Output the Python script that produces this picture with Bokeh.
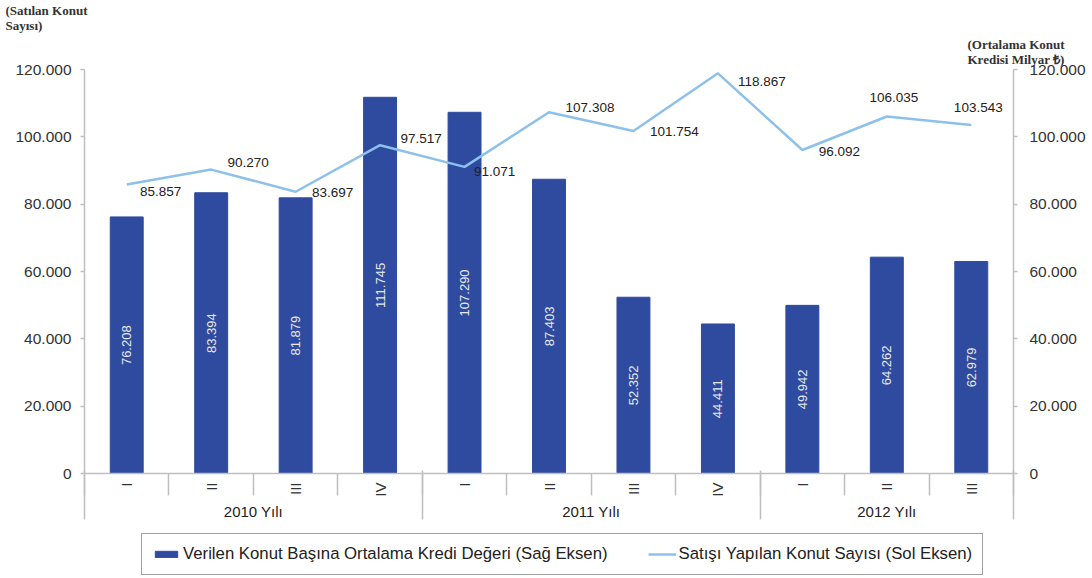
import math
from bokeh.plotting import figure
from bokeh.layouts import column
from bokeh.models import (Range1d, LinearAxis, FixedTicker, Title, Legend, LegendItem,
                          ColumnDataSource)
from bokeh.core.properties import value
from bokeh.embed import file_html
from bokeh.resources import INLINE

# ---------------- data ----------------
years = ["2010 Yılı", "2011 Yılı", "2012 Yılı"]
quarters = [["I", "II", "III", "IV"], ["I", "II", "III", "IV"], ["I", "II", "III"]]
credit_values = [76208, 83394, 81879, 111745, 107290, 87403, 52352, 44411, 49942, 64262, 62979]
sales_counts = [85857, 90270, 83697, 97517, 91071, 107308, 101754, 118867, 96092, 106035, 103543]
y_ticks = [0, 20000, 40000, 60000, 80000, 100000, 120000]
y_tick_labels = ["0", "20.000", "40.000", "60.000", "80.000", "100.000", "120.000"]
bar_name = "Verilen Konut Başına Ortalama Kredi Değeri (Sağ Eksen)"
line_name = "Satışı Yapılan Konut Sayısı (Sol Eksen)"
left_title = "(Satılan Konut\nSayısı)"
right_title = "(Ortalama Konut\nKredisi Milyar ₺)"

# label offsets (screen px) for the line value labels
line_lbl_dx = [34, 37, 37, 41, 30, 41, 41, 44, 37, 7, 7]
line_lbl_dy = [7, -7, 1, -7, 5, -5, 1, 8, 2, -19, -17]

def fmt(v):
    return f"{v:,}".replace(",", ".")

quarter_labels = [q for qs in quarters for q in qs]
n = len(quarter_labels)
slot_centers = [i + 0.5 for i in range(n)]          # category slots on the x scale
boundaries_all = list(range(n + 1))
year_bounds = [0]
for qs in quarters:
    year_bounds.append(year_bounds[-1] + len(qs))
year_centers = [(a + b) / 2 for a, b in zip(year_bounds[:-1], year_bounds[1:])]

FONT = "Liberation Sans"
AXIS_GRAY = "#BFBFBF"
BAR_COLOR = "#2E4B9F"
LINE_COLOR = "#8DC0EA"
W = 1092

# ---------------- main chart ----------------
src = ColumnDataSource(dict(
    x=slot_centers,
    credit=credit_values,
    credit_mid=[v / 2 for v in credit_values],
    credit_lbl=[fmt(v) for v in credit_values],
    sales=sales_counts,
    sales_lbl=[fmt(v) for v in sales_counts],
    dx=line_lbl_dx,
    dy=line_lbl_dy,
))

p = figure(x_range=Range1d(0, n), y_range=Range1d(0, 120000), width=W, height=530,
           output_backend="svg", toolbar_location=None, x_axis_location=None,
           min_border_left=84, min_border_right=79, min_border_top=58, min_border_bottom=57)
p.grid.visible = False
p.outline_line_color = None

ya = p.yaxis[0]
ya.ticker = FixedTicker(ticks=y_ticks)
ya.major_label_overrides = {t: l for t, l in zip(y_ticks, y_tick_labels)}
yr = LinearAxis(ticker=FixedTicker(ticks=y_ticks))
yr.major_label_overrides = {t: l for t, l in zip(y_ticks, y_tick_labels)}
p.add_layout(yr, "right")
for ax in [ya, yr]:
    ax.axis_line_color = AXIS_GRAY
    ax.axis_line_width = 1.5
    ax.major_tick_line_color = AXIS_GRAY
    ax.major_tick_line_width = 1.5
    ax.major_tick_out = 4
    ax.major_tick_in = 0
    ax.minor_tick_line_color = None
    ax.major_label_text_font = FONT
    ax.major_label_text_font_size = "15.5px"
    ax.major_label_text_color = "#333333"
ya.major_label_standoff = 9
yr.major_label_standoff = 12

# x axis 1: quarters (labels at slot centres, short separators at slot boundaries)
xq = LinearAxis(ticker=FixedTicker(ticks=slot_centers, minor_ticks=boundaries_all))
xq.major_label_overrides = {c: q for c, q in zip(slot_centers, quarter_labels)}
xq.axis_line_color = AXIS_GRAY
xq.axis_line_width = 1.5
xq.major_tick_line_color = None
xq.major_tick_out = 0
xq.major_tick_in = 0
xq.minor_tick_line_color = AXIS_GRAY
xq.minor_tick_line_width = 1.5
xq.minor_tick_out = 22
xq.minor_tick_in = 0
xq.major_label_orientation = math.pi / 2
xq.major_label_text_font = FONT
xq.major_label_text_font_size = "15px"
xq.major_label_text_color = "#333333"
xq.major_label_standoff = -13
p.add_layout(xq, "below")

# x axis 2: years (labels at year centres, long separators at year boundaries)
xy = LinearAxis(ticker=FixedTicker(ticks=year_centers, minor_ticks=year_bounds))
xy.major_label_overrides = {c: y for c, y in zip(year_centers, years)}
xy.axis_line_color = None
xy.major_tick_line_color = None
xy.major_tick_out = 0
xy.major_tick_in = 0
xy.minor_tick_line_color = AXIS_GRAY
xy.minor_tick_line_width = 1.5
xy.minor_tick_in = 29
xy.minor_tick_out = 20
xy.major_label_text_font = FONT
xy.major_label_text_font_size = "15px"
xy.major_label_text_color = "#222222"
xy.major_label_standoff = -17
p.add_layout(xy, "below")

bars = p.vbar(x="x", top="credit", width=0.39, source=src, fill_color=BAR_COLOR,
              line_color=BAR_COLOR)
line = p.line(x="x", y="sales", source=src, line_color=LINE_COLOR, line_width=2.5)

p.text(x="x", y="credit_mid", text="credit_lbl", source=src, angle=math.pi / 2,
       text_align="center", text_baseline="middle", text_color="#E8E8E8",
       text_font=value(FONT), text_font_size="13px")
p.text(x="x", y="sales", text="sales_lbl", source=src, x_offset="dx", y_offset="dy",
       text_align="center", text_baseline="middle", text_color="#222222",
       text_font=value(FONT), text_font_size="13.5px")

# axis titles in the top border (right one closest to the frame, left one above it)
p.add_layout(Title(text=right_title, align="left", offset=883, standoff=5,
                   text_font="Liberation Serif", text_font_size="13px",
                   text_line_height=1.0, text_font_style="bold",
                   text_color="#333333"), "above")
p.add_layout(Title(text=left_title, align="left", offset=-79, standoff=0,
                   text_font="Liberation Serif", text_font_size="13px",
                   text_line_height=1.0, text_font_style="bold",
                   text_color="#333333"), "above")

# ---------------- legend strip ----------------
lf = figure(width=W, height=48, x_range=Range1d(0, 1), y_range=Range1d(0, 1),
            output_backend="svg", toolbar_location=None, x_axis_location=None,
            y_axis_location=None, min_border=0)
lf.outline_line_color = None
lf.grid.visible = False
# legend proxies sit outside the strip's visible range
lg_bar = lf.vbar(x=[-5], top=[0], width=0.1, fill_color=BAR_COLOR, line_color=BAR_COLOR)
lg_line = lf.line(x=[-5, -4], y=[0, 0], line_color=LINE_COLOR, line_width=2.5)
legend = Legend(items=[LegendItem(label=bar_name, renderers=[lg_bar]),
                       LegendItem(label=line_name, renderers=[lg_line])],
                orientation="horizontal", location=(57, 3),
                border_line_color="#444444", border_line_width=1,
                label_text_font=FONT, label_text_font_size="16.75px",
                label_text_color="#222222", glyph_width=28, glyph_height=8,
                spacing=40, padding=10, margin=0, label_standoff=3)
lf.add_layout(legend)

layout = column(p, lf, spacing=0)
open("out.html", "w").write(file_html(layout, INLINE))
